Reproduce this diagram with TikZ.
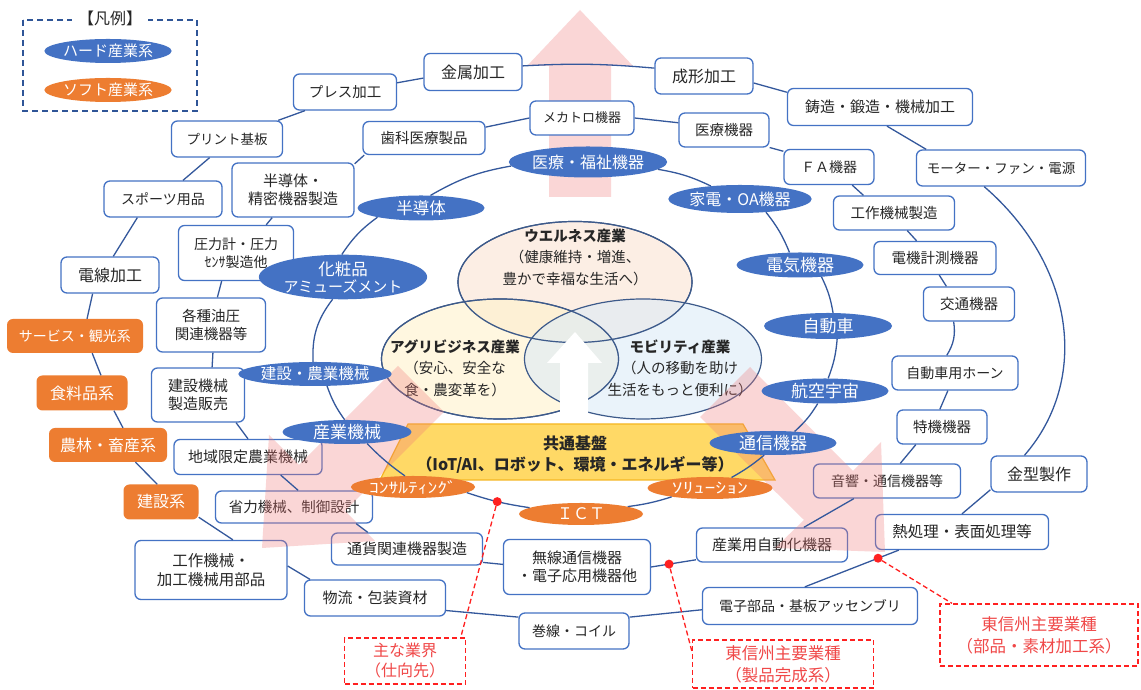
\documentclass[tikz,border=0pt]{standalone}
\usepackage{fontspec}
\setmainfont{Noto Sans CJK JP}
\usetikzlibrary{shapes.geometric}
\definecolor{boxblue}{HTML}{4472C4}
\definecolor{ringblue}{HTML}{34589C}
\definecolor{ellblue}{HTML}{4472C4}
\definecolor{orng}{HTML}{ED7D31}
\definecolor{txt}{HTML}{262626}
\definecolor{redc}{HTML}{FF2020}
\definecolor{redtxt}{HTML}{F04848}
\definecolor{pinkc}{HTML}{F07878}
\definecolor{wellc}{HTML}{FBE3D2}
\definecolor{agric}{HTML}{FFF2CC}
\definecolor{mobc}{HTML}{DDEBF7}
\definecolor{platY}{HTML}{FFD966}
\definecolor{platE}{HTML}{F5B622}
\definecolor{vennedge}{HTML}{3D5A8A}
\definecolor{legdash}{HTML}{2F5597}
\newcommand\fsz[2]{\fontsize{#1}{#2}\selectfont}
\begin{document}
\begin{tikzpicture}[x=1pt,y=1pt,
 box/.style={draw=boxblue, line width=1.3pt, rounded corners=6pt, fill=white, text=txt, inner sep=1pt, align=center},
 obox/.style={fill=orng, rounded corners=6pt, text=white, inner sep=1pt, align=center},
 bell/.style={ellipse, fill=ellblue, text=white, inner sep=0pt, align=center},
 oell/.style={ellipse, fill=orng, text=white, inner sep=0pt, align=center},
 ring/.style={draw=ringblue, line width=1.3pt},
 venn/.style={ellipse, draw=vennedge, line width=1.2pt, fill opacity=0.6, inner sep=0pt},
 redbox/.style={draw=redc, dash pattern=on 5pt off 3pt, line width=1.3pt, text=redtxt, align=center, inner sep=0pt},
 reddash/.style={draw=redc, line width=1.3pt, dash pattern=on 5pt off 3pt},
 reddot/.style={circle, fill=redc, inner sep=0pt, minimum size=9pt},
 pinkarrow/.style={fill=pinkc, fill opacity=0.3},
 sz/.style 2 args={minimum width=#1pt, minimum height=#2pt},
 vtext/.style={text=txt, align=center, inner sep=0pt}
]
\useasboundingbox (0,0) rectangle (1141,690);
\fill[white] (0,0) rectangle (1141,690);

% up pink arrow (behind)
\fill[pinkarrow] (549,493) -- (549,624) -- (527,624) -- (580,680) -- (633,624) -- (611,624) -- (611,493) -- cycle;

% legend
\draw[legdash, line width=1.2pt, dash pattern=on 6pt off 4pt] (23,670) rectangle (197,579);
\node[fill=white, text=txt, font=\fsz{16}{18}, inner xsep=6pt, inner ysep=2pt] (legT) at (110,672) {【凡例】};
\node[bell, sz={127}{24}, font=\fsz{15}{18}] (legH) at (108,639) {ハード産業系};
\node[oell, sz={127}{24}, font=\fsz{15}{18}] (legS) at (108,600) {ソフト産業系};

% venn
\node[venn, fill=wellc, sz={234}{121}] (wellE) at (575,408) {};
\node[venn, fill=agric, sz={237}{120}] (agriE) at (500,331) {};
\node[venn, fill=mobc, sz={237}{120}] (mobE) at (643,331) {};
\draw[vennedge, line width=1.2pt] (575,408) ellipse (117 and 60.5);
\draw[vennedge, line width=1.2pt] (500,331) ellipse (118.5 and 60);
\node[vtext, font=\fsz{14.5}{21.5}] (wellT) at (575,433) {\textbf{ウエルネス産業}\\（健康維持・増進、\\豊かで幸福な生活へ）};
\node[vtext, font=\fsz{14.5}{21.5}] (agriT) at (455,322) {\textbf{アグリビジネス産業}\\（安心、安全な\\食・農変革を）};
\node[vtext, font=\fsz{14.5}{21.5}] (mobT) at (680,322) {\textbf{モビリティ産業}\\（人の移動を助け\\生活をもっと便利に）};
\fill[white] (560,262) -- (560,327) -- (547,327) -- (575,358) -- (602,327) -- (588,327) -- (588,262) -- cycle;

% platform
\filldraw[fill=platY, draw=platE, line width=1.2pt] (408,266) -- (743,266) -- (775,210) -- (380,210) -- cycle;
\node[vtext, font=\bfseries\fsz{16}{21}] (kiban) at (575,235) {共通基盤\\（IoT/AI、ロボット、環境・エネルギー等）};

% outer ring boxes
\node[box, sz={103}{36}, font=\fsz{14.5}{17}] (press) at (345,598) {プレス加工};
\node[box, sz={98}{37}, font=\fsz{16}{19}] (kinzoku) at (473,618) {金属加工};
\node[box, sz={98}{36}, font=\fsz{16}{19}] (seikei) at (704,614) {成形加工};
\node[box, sz={185}{37}, font=\fsz{15}{18}] (chuzo) at (880,583) {鋳造・鍛造・機械加工};
\node[box, sz={169}{36}, font=\fsz{13.5}{16}] (motor) at (1001,522) {モーター・ファン・電源};
\node[box, sz={96}{36}, font=\fsz{16}{19}] (kanagata) at (1039,216) {金型製作};
\node[box, sz={173}{35}, font=\fsz{15.5}{18}] (netsu) at (962,158) {熱処理・表面処理等};
\node[box, sz={215}{37}, font=\fsz{14}{17}] (denshi) at (810,84) {電子部品・基板アッセンブリ};
\node[box, sz={110}{36}, font=\fsz{14}{17}] (makisen) at (574,59) {巻線・コイル};
\node[box, sz={141}{36}, font=\fsz{15}{18}] (butsuryu) at (375,92) {物流・包装資材};
\node[box, sz={152}{59}, font=\fsz{15.5}{18.5}] (kosaku) at (211,120) {工作機械・\\加工機械用部品};
\node[obox, sz={75}{35}, font=\fsz{16}{19}] (kensetsu) at (161,188) {建設系};
\node[obox, sz={118}{34}, font=\fsz{16}{19}] (norin) at (108,245) {農林・畜産系};
\node[obox, sz={91}{35}, font=\fsz{16}{19}] (shokuryo) at (82,297) {食料品系};
\node[obox, sz={136}{34}, font=\fsz{14}{17}] (service) at (75,354) {サービス・観光系};
\node[box, sz={98}{36}, font=\fsz{16}{19}] (densen) at (110,415) {電線加工};
\node[box, sz={118}{36}, font=\fsz{14}{17}] (sports) at (163,491) {スポーツ用品};
\node[box, sz={111}{36}, font=\fsz{13.5}{16}] (print) at (227,551) {プリント基板};

% second ring boxes
\node[box, sz={104}{34}, font=\fsz{13}{16}] (mecha) at (582,572) {メカトロ機器};
\node[box, sz={90}{34}, font=\fsz{14.5}{17}] (iryo) at (724,560) {医療機器};
\node[box, sz={90}{35}, font=\fsz{14}{17}] (fa) at (829,523) {ＦＡ機器};
\node[box, sz={121}{34}, font=\fsz{14.5}{17}] (kosakuseizo) at (894,477) {工作機械製造};
\node[box, sz={122}{33}, font=\fsz{14.5}{17}] (denki) at (935,432) {電機計測機器};
\node[box, sz={91}{34}, font=\fsz{14.5}{17}] (kotsu) at (969,386) {交通機器};
\node[box, sz={126}{34}, font=\fsz{14}{17}] (horn) at (955,317) {自動車用ホーン};
\node[box, sz={90}{34}, font=\fsz{14.5}{17}] (tokki) at (942,263) {特機機器};
\node[box, sz={147}{34}, font=\fsz{14}{17}] (onkyo) at (887,209) {音響・通信機器等};
\node[box, sz={151}{34}, font=\fsz{15}{18}] (sangyojido) at (772,145) {産業用自動化機器};
\node[box, sz={147}{55}, font=\fsz{15}{18}] (musen) at (577,123) {無線通信機器\\・電子応用機器他};
\node[box, sz={151}{32}, font=\fsz{15}{18}] (tsuka) at (407,141) {通貨関連機器製造};
\node[box, sz={157}{32}, font=\fsz{14.5}{17}] (shoryoku) at (294,183) {省力機械、制御設計};
\node[box, sz={148}{35}, font=\fsz{15}{18}] (chiiki) at (248,233) {地域限定農業機械};
\node[box, sz={93}{54}, font=\fsz{15}{18}] (kenki) at (198,295) {建設機械\\製造販売};
\node[box, sz={109}{54}, font=\fsz{14.5}{18}] (yuatsu) at (211,365) {各種油圧\\関連機器等};
\node[box, sz={115}{55}, font=\fsz{14}{18}] (atsuryoku) at (236,437) {圧力計・圧力\\ｾﾝｻ製造他};
\node[box, sz={122}{54}, font=\fsz{15}{18}] (handotai) at (293,500) {半導体・\\精密機器製造};
\node[box, sz={122}{33}, font=\fsz{14.5}{17}] (shika) at (424,552) {歯科医療製品};

% lower pink arrows (overlay on boxes, below ellipses)
\fill[pinkarrow] (750,323) -- (853,219) -- (881,248) -- (885,138) -- (775,142) -- (804,170) -- (700,273) -- cycle;
\fill[pinkarrow] (398,324) -- (299,225) -- (269,255) -- (262,142) -- (375,149) -- (345,179) -- (444,278) -- cycle;

% inner ring ellipses
\node[bell, sz={127}{31}, font=\fsz{16}{19}] (iryofukushi) at (588,528) {医療・福祉機器};
\node[bell, sz={125}{28}, font=\fsz{16}{19}] (kaden) at (740,491) {家電・OA機器};
\node[bell, sz={127}{25}, font=\fsz{17}{19}] (denkikiki) at (800,425) {電気機器};
\node[bell, sz={128}{26}, font=\fsz{17}{19}] (jidosha) at (828,364) {自動車};
\node[bell, sz={127}{25}, font=\fsz{17}{19}] (koku) at (825,299) {航空宇宙};
\node[bell, sz={127}{24}, font=\fsz{17}{19}] (tsushin) at (773,247) {通信機器};
\node[oell, sz={125}{22}, font=\fsz{15}{18}] (solution) at (710,202) {\scalebox{1.45}[1]{ｿﾘｭｰｼｮﾝ}};
\node[oell, sz={124}{22}, font=\fsz{16}{19}] (ict) at (581,176) {ＩＣＴ};
\node[oell, sz={124}{22}, font=\fsz{15}{18}] (consul) at (413,203) {\scalebox{1.3}[1]{ｺﾝｻﾙﾃｨﾝｸﾞ}};
\node[bell, sz={129}{24}, font=\fsz{17}{19}] (sangyokikai) at (347,258) {産業機械};
\node[bell, sz={126}{24}, font=\fsz{15.5}{18}] (kenno) at (315,316) {建設・農業機械};
\node[bell, sz={127}{42}, font=\fsz{15}{17}] (kesho) at (343,413) {{\fsz{16.5}{19}化粧品}\\アミューズメント};
\node[bell, sz={127}{25}, font=\fsz{16.5}{19}] (handotaiE) at (421,482) {半導体};

% outer ring links
\draw[ring] (press.10) -- (kinzoku.187);
\draw[ring] (kinzoku.7) to[bend left=4] (seikei.171);
\draw[ring] (seikei.-8) -- (chuzo.171);
\draw[ring] (chuzo.-70) -- (motor.166);
\draw[ring] (motor.-132) .. controls (1075,425) and (1090,310) .. (kanagata.128);
\draw[ring] (kanagata.-162) -- (netsu.90);
\draw[ring] (netsu.-164) -- coordinate[pos=0.22] (dC) (denshi.105);
\draw[ring] (denshi.-178) -- (makisen.14);
\draw[ring] (makisen.166) -- (butsuryu.-10);
\draw[ring] (butsuryu.164) -- (kosaku.3);
\draw[ring] (kosaku.54) -- (kensetsu.-22);
\draw[ring] (kensetsu.102) -- (norin.-32);
\draw[ring] (norin.49) -- (shokuryo.-29);
\draw[ring] (shokuryo.43) -- (service.-45);
\draw[ring] (service.55) -- (densen.-133);
\draw[ring] (densen.80) -- (sports.-144);
\draw[ring] (sports.43) -- (print.-133);
\draw[ring] (print.20) -- (press.-155);

% second ring links
\draw[ring] (shika.10) -- (mecha.180);
\draw[ring] (mecha.0) -- (iryo.171);
\draw[ring] (iryo.-21) -- (fa.161);
\draw[ring] (fa.-38) -- (kosakuseizo.150);
\draw[ring] (kosakuseizo.-53) -- (denki.137);
\draw[ring] (denki.-76) -- (kotsu.142);
\draw[ring] (kotsu.-131) to[bend left=20] (horn.115);
\draw[ring] (horn.-112) -- (tokki.97);
\draw[ring] (tokki.-146) -- (onkyo.53);
\draw[ring] (onkyo.-152) -- (sangyojido.29);
\draw[ring] (sangyojido.-169) -- coordinate[pos=0.6] (dB) (musen.0);
\draw[ring] (musen.178) -- (tsuka.-10);
\draw[ring] (tsuka.157) -- (shoryoku.-15);
\draw[ring] (shoryoku.76) -- (chiiki.-29);
\draw[ring] (chiiki.90) -- (kenki.-36);
\draw[ring] (kenki.63) -- (yuatsu.-86);
\draw[ring] (yuatsu.77) -- (atsuryoku.-117);
\draw[ring] (atsuryoku.43) -- (handotai.-127);
\draw[ring] (handotai.23) -- (shika.-164);

% inner ring links
\draw[ring] (handotaiE.53) to[bend left=10] (iryofukushi.-177);
\draw[ring] (iryofukushi.-6) to[bend left=8] (kaden.156);
\draw[ring] (kaden.-27) to[bend left=8] (denkikiki.130);
\draw[ring] (denkikiki.-29) to[bend left=8] (jidosha.69);
\draw[ring] (jidosha.-55) to[bend left=8] (koku.76);
\draw[ring] (koku.-120) to[bend left=8] (tsushin.28);
\draw[ring] (tsushin.-126) to[bend left=5] (solution.26);
\draw[ring] (solution.-167) to[bend left=5] (ict.9);
\draw[ring] (ict.173) to[bend left=5] coordinate[pos=0.51] (dA) (consul.-6);
\draw[ring] (consul.126) to[bend left=5] (sangyokikai.-30);
\draw[ring] (sangyokikai.101) to[bend left=8] (kenno.-45);
\draw[ring] (kenno.99) to[bend left=20] (kesho.-115);
\draw[ring] (kesho.93) to[bend left=10] (handotaiE.-168);

% red notes
\node[redbox, sz={121}{46}, font=\fsz{16}{20}] (gyokai) at (405,29) {主な業界\\（仕向先）};
\node[redbox, sz={181}{48}, font=\fsz{16.5}{22}] (seihin) at (783,26) {東信州主要業種\\（製品完成系）};
\node[redbox, sz={198}{62}, font=\fsz{16.5}{22}] (buhin) at (1039,55) {東信州主要業種\\（部品・素材加工系）};
\node[reddot] (dotA) at (dA) {};
\node[reddot] (dotB) at (dB) {};
\node[reddot] (dotC) at (dC) {};
\draw[reddash] (dotA) -- (gyokai.23.5);
\draw[reddash] (dotB) -- (seihin.172);
\draw[reddash] (dotC) -- (buhin.160.6);
\end{tikzpicture}
\end{document}
